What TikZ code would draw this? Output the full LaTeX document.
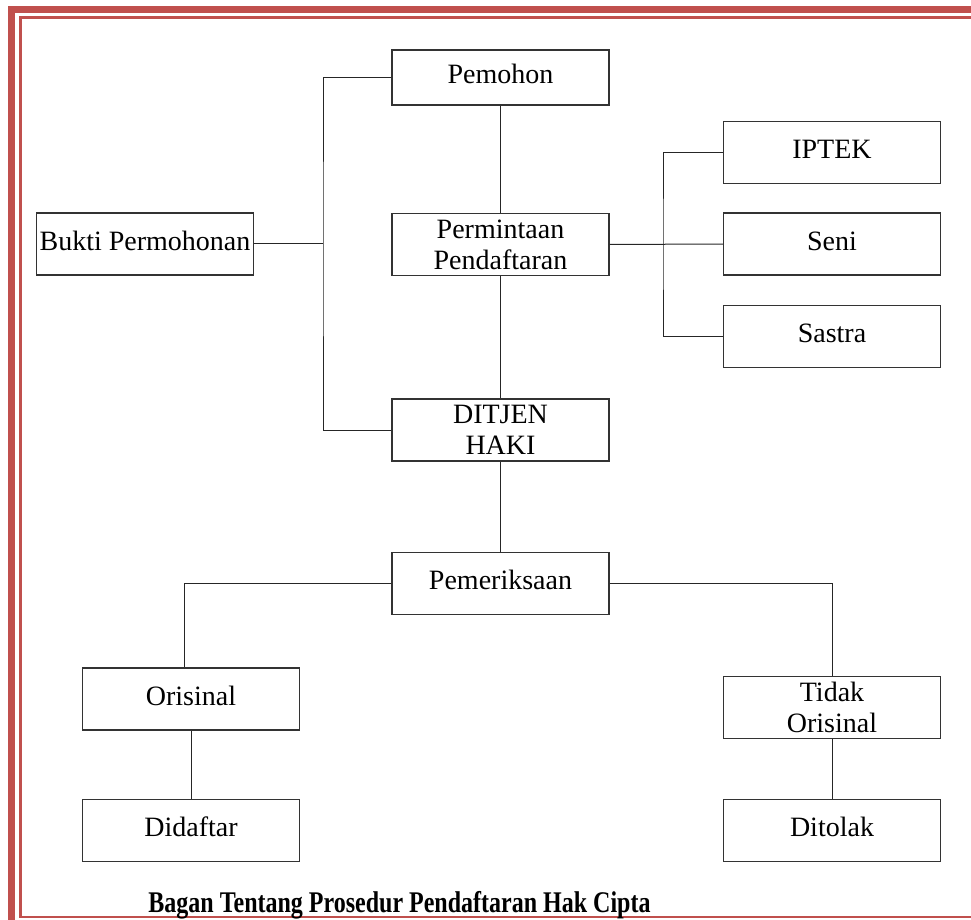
\documentclass[tikz,border=0pt]{standalone}
\usepackage{fontspec}
\setmainfont{Liberation Serif}
\usepackage{graphicx}
\usepackage{xcolor}
\usepackage{tikz}
\definecolor{frame}{HTML}{C0504D}

\begin{document}
\begin{tikzpicture}[
        x=0.5pt, y=-0.5pt,
        box/.style={rectangle, draw=black!80, line width=0.65pt, inner sep=0pt,
                    minimum width=108.5pt, minimum height=31pt, align=center,
                    font=\fontsize{14}{15.5}\selectfont},
        oneline/.style={text height=0.7em, text depth=0.1em},
        link/.style={draw=black!85, line width=0.5pt}
    ]
        \useasboundingbox (0,0) rectangle (971,920);
        \clip (0,0) rectangle (971,920);
        \draw[frame, line width=3.7pt] (11.7,940) |- (990,9.7);
        \draw[frame, line width=1.4pt] (20.5,917) rectangle (990,17.5);

        \node[box, oneline, minimum height=27.5pt] (pemohon) at (500.5,77.5) {Pemohon};
        \node[box] (minta) at (500.5,244.5) {Permintaan \\ Pendaftaran};
        \node[box, oneline] (bukti) at (145,244) {Bukti Permohonan};
        \node[box, oneline] (iptek) at (832,152.5) {IPTEK};
        \node[box, oneline] (seni) at (832,244) {Seni};
        \node[box, oneline] (sastra) at (832,336.5) {Sastra};
        \node[box] (ditjen) at (500.5,430) {DITJEN \\ HAKI};
        \node[box, oneline] (periksa) at (500.5,583.5) {Pemeriksaan};
        \node[box, oneline] (orisinal) at (191,699) {Orisinal};
        \node[box, oneline] (didaftar) at (191,830.5) {Didaftar};
        \node[box] (tidak) at (832,707.5) {Tidak \\ Orisinal};
        \node[box, oneline] (ditolak) at (832,830.5) {Ditolak};

        \coordinate (lb) at (323,244);
        \coordinate (rb) at (663,244);

        \draw[link] (pemohon) -- (minta);
        \draw[link] (minta) -- (ditjen);
        \draw[link] (ditjen) -- (periksa);
        \draw[link] (pemohon.west) -| (lb) |- (ditjen.west);
        \draw[link] (bukti) -- (lb);
        \draw[link] (minta) -- (seni);
        \draw[link] (iptek.west) -| (rb) |- (sastra.west);
        \draw[link] (periksa.west) -| ([xshift=-3.5pt]orisinal.north);
        \draw[link] (periksa.east) -| (tidak.north);
        \draw[link] (orisinal) -- (didaftar);
        \draw[link] (tidak) -- (ditolak);

        \node[anchor=base, font=\fontsize{15}{18}\selectfont\bfseries] (judul) at (399.5,912)
            {\scalebox{0.8}[1]{Bagan Tentang Prosedur Pendaftaran Hak Cipta}};
    \end{tikzpicture}
\end{document}
